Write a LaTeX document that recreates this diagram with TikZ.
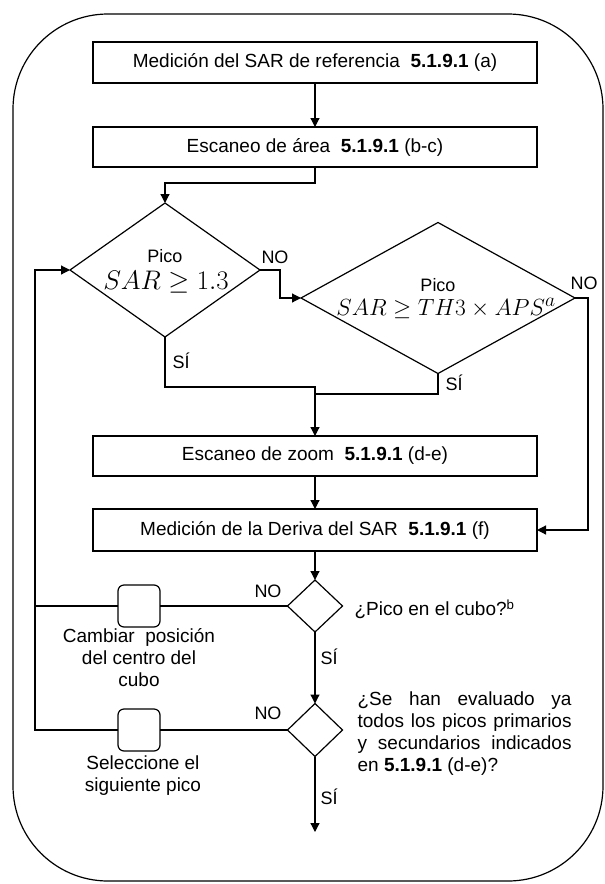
\documentclass[tikz,border=0pt]{standalone}
\usepackage{graphicx}
\usepackage{fontspec}
\setmainfont{Liberation Sans}
\usetikzlibrary{shapes.geometric,arrows.meta,calc}
\begin{document}
\begin{tikzpicture}[x=1pt,y=-1pt,
  line width=1.2pt,
  box/.style={draw, rectangle, minimum width=444pt, minimum height=41pt, inner sep=0pt, outer sep=0pt, font=\fontsize{19}{22}\selectfont},
  dec/.style={draw, diamond, inner sep=0pt, outer sep=0pt},
  sq/.style={draw, rectangle, rounded corners=6pt, minimum width=42pt, minimum height=42pt, inner sep=0pt, outer sep=0pt},
  lbl/.style={font=\fontsize{18}{20}\selectfont, inner sep=0pt},
  txt/.style={font=\fontsize{19}{22}\selectfont, inner sep=0pt},
  arr/.style={-{Triangle[length=9pt,width=9pt]}},
]
\useasboundingbox (0,0) rectangle (605,884);
\draw[rounded corners=95pt] (13,14) rectangle (603,881);

% boxes
\node[box] (b1) at (315,62.5) {Medición del SAR de referencia\ \ \textbf{5.1.9.1} (a)};
\node[box, minimum height=40pt] (b2) at (315,147) {Escaneo de área\ \ \textbf{5.1.9.1} (b-c)};
\node[box, minimum height=40pt] (b3) at (315,456) {Escaneo de zoom\ \ \textbf{5.1.9.1} (d-e)};
\node[box, minimum height=42pt] (b4) at (315,530) {Medición de la Deriva del SAR\ \ \textbf{5.1.9.1} (f)};

% decisions
\node[dec, minimum width=190pt, minimum height=134pt] (d1) at (165,270) {};
\node[dec, minimum width=274pt, minimum height=151pt] (d2) at (438,298) {};
\node[dec, minimum width=55pt, minimum height=52pt] (d3) at (315,606) {};
\node[dec, minimum width=55pt, minimum height=53pt] (d4) at (315,730) {};

\node[lbl, anchor=base] (p1) at (165,262) {Pico};
\node[inner sep=0pt, anchor=base] (m1) at (166,289) {\scalebox{1.08}{\Huge $SAR \geq 1.3$}};
\node[lbl, anchor=base] (p2) at (438,291) {Pico};
\node[inner sep=0pt, anchor=base] (m2) at (446,315) {\scalebox{0.94}{\Huge $SAR \geq TH3 \times APS^{a}$}};

% small rounded boxes
\node[sq] (s1) at (139,606) {};
\node[sq] (s2) at (139,730) {};

% connectors
\draw[arr] (b1.south) -- (b2.north);
\draw[arr] (b2.south) -- ++(0,16) -| (d1.north);
\draw[arr] (d1.east) -- ++(20,0) |- (d2.west);
\draw[arr] (d2.east) -- ++(13,0) |- (b4.east);
\draw[arr] (d1.south) -- ++(0,50) -| (b3.north);
\coordinate (m) at (315,394);
\draw (d2.south) |- (m);
\draw[arr] (b3.south) -- (b4.north);
\draw[arr] (b4.south) -- (d3.north);
\draw[arr] (d3.south) -- (d4.north);
\coordinate (e) at (315,832);
\draw[arr] (d4.south) -- (e);
\coordinate (r1) at (35,606);
\coordinate (r2) at (35,730);
\draw (d3.west) -- (s1.east);
\draw (s1.west) -- (r1);
\draw (d4.west) -- (s2.east);
\draw[arr] (s2.west) -- (r2) |- (d1.west);

% labels
\node[lbl] (n1) at (275,257) {NO};
\node[lbl] (n2) at (584,283) {NO};
\node[lbl, anchor=west] (y1) at (172,361) {SÍ};
\node[lbl, anchor=west] (y2) at (445,383) {SÍ};
\node[lbl] (n3) at (268,591) {NO};
\node[lbl, anchor=west] (y3) at (320,657) {SÍ};
\node[lbl] (n4) at (268,713) {NO};
\node[lbl, anchor=west] (y4) at (320,797) {SÍ};

\node[txt, anchor=west] (q1) at (354,609) {¿Pico en el cubo?\textsuperscript{b}};
\node[txt, anchor=north west, align=left] (q2) at (357,691)
  {\makebox[214pt][s]{¿Se han evaluado ya}\\
   \makebox[214pt][s]{todos los picos primarios}\\
   \makebox[214pt][s]{y secundarios indicados}\\
   en \textbf{5.1.9.1} (d-e)?};
\node[txt, align=center] (c1) at (139,658) {Cambiar\ \ posición\\del centro del\\cubo};
\node[txt, align=center] (c2) at (143,776) {Seleccione el\\siguiente pico};
\end{tikzpicture}
\end{document}
